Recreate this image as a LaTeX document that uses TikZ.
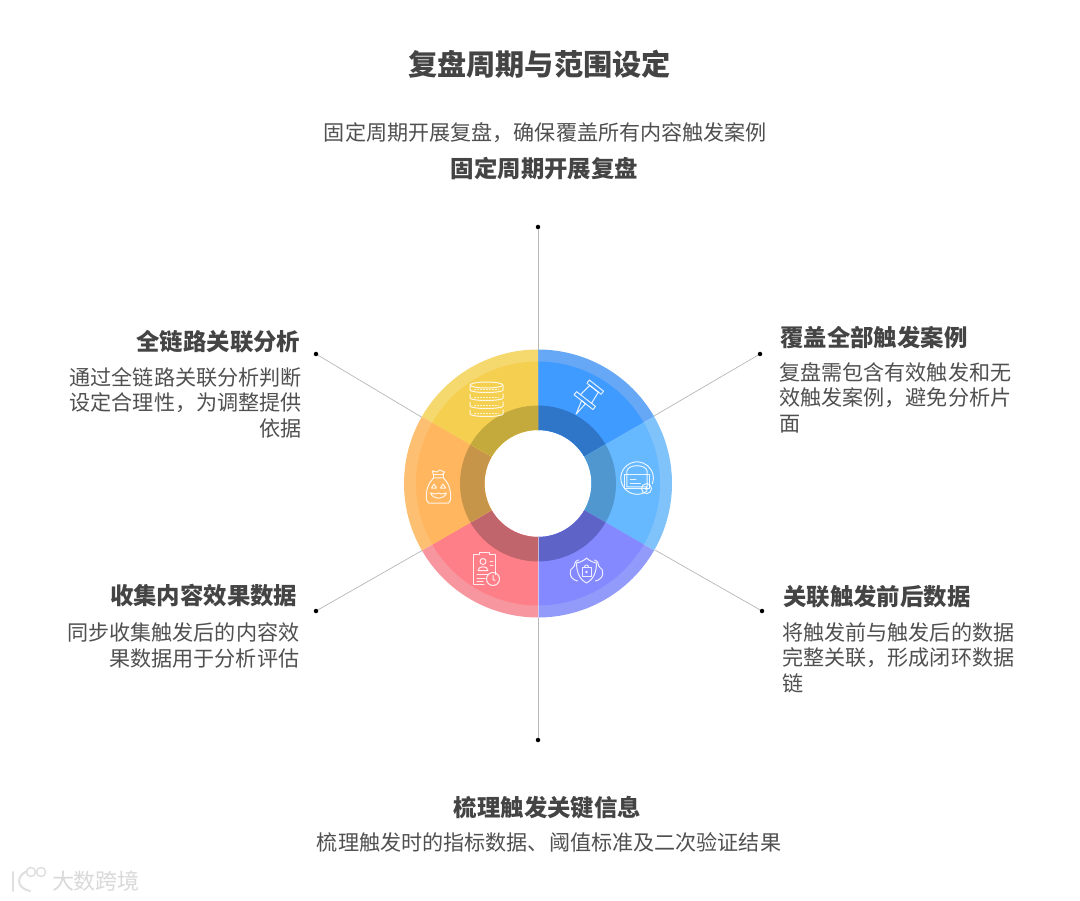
\documentclass[tikz,border=0pt]{standalone}
\usepackage{fontspec}
\setmainfont{Noto Sans CJK SC}
\usetikzlibrary{calc}
\definecolor{txt}{HTML}{505050}
\definecolor{head}{HTML}{444444}
\definecolor{seglineg}{HTML}{B8B8B8}
\definecolor{aO}{HTML}{66A8F5}\definecolor{aM}{HTML}{3F9BFF}\definecolor{aD}{HTML}{2F75C8}
\definecolor{bO}{HTML}{80C2FA}\definecolor{bM}{HTML}{66B8FF}\definecolor{bD}{HTML}{5097CF}
\definecolor{cO}{HTML}{939BFA}\definecolor{cM}{HTML}{8589FF}\definecolor{cD}{HTML}{5E63C8}
\definecolor{dO}{HTML}{F7969F}\definecolor{dM}{HTML}{FF7F88}\definecolor{dD}{HTML}{C0656B}
\definecolor{eO}{HTML}{FDC072}\definecolor{eM}{HTML}{FFB65E}\definecolor{eD}{HTML}{C6954A}
\definecolor{fO}{HTML}{F5D86E}\definecolor{fM}{HTML}{F5CF50}\definecolor{fD}{HTML}{C4A93C}
\newcommand{\ringseg}[5]{%
  \fill[#3] ($(538,-483.5)+(#1:134)$) arc[start angle=#1,end angle=#2,radius=134] -- ($(538,-483.5)+(#2:53.5)$) arc[start angle=#2,end angle=#1,radius=53.5] -- cycle;
  \fill[#4] ($(538,-483.5)+(#1:122)$) arc[start angle=#1,end angle=#2,radius=122] -- ($(538,-483.5)+(#2:53.5)$) arc[start angle=#2,end angle=#1,radius=53.5] -- cycle;
  \fill[#5] ($(538,-483.5)+(#1:78)$) arc[start angle=#1,end angle=#2,radius=78] -- ($(538,-483.5)+(#2:53.5)$) arc[start angle=#2,end angle=#1,radius=53.5] -- cycle;
}
\tikzset{
  titletext/.style={font=\bfseries\fontsize{29.2}{34}\selectfont,text=head,inner sep=0pt},
  headtext/.style={font=\bfseries\fontsize{23.4}{28}\selectfont,text=head,inner sep=0pt},
  bodytext/.style={font=\fontsize{21.1}{25.7}\selectfont,text=txt,inner sep=0pt},
  leader/.style={draw=seglineg,line width=0.7pt},
  blackdot/.style={circle,fill=black,inner sep=0pt,minimum size=4.5pt},
  icon/.style={draw=white,line width=1pt,line join=round,line cap=round,opacity=0.85},
}
\begin{document}
\begin{tikzpicture}[x=1pt,y=1pt]
\useasboundingbox[fill=white] (0,0) rectangle (1080,-901);
% title block
\node[titletext] (title) at (539.5,-64) {复盘周期与范围设定};
\node[bodytext] (sub) at (545.5,-133) {固定周期开展复盘，确保覆盖所有内容触发案例};
\node[headtext] (h1) at (544.5,-168.5) {固定周期开展复盘};
% dots and connectors
\node[blackdot] (dT) at (538,-227) {};
\node[blackdot] (dB) at (538,-740) {};
\node[blackdot] (dTL) at (316,-354) {};
\node[blackdot] (dTR) at (760,-354) {};
\node[blackdot] (dBL) at (316,-611) {};
\node[blackdot] (dBR) at (762,-611) {};
\coordinate (rT) at (538,-350);
\coordinate (rB) at (538,-617);
\coordinate (rTL) at (423,-418);
\coordinate (rTR) at (654,-416);
\coordinate (rBL) at (423,-550);
\coordinate (rBR) at (655,-550);
\draw[leader] (dT) -- (rT);
\draw[leader] (dB) -- (rB);
\draw[leader] (dTL) -- (rTL);
\draw[leader] (dTR) -- (rTR);
\draw[leader] (dBL) -- (rBL);
\draw[leader] (dBR) -- (rBR);
% ring
\ringseg{90}{30}{aO}{aM}{aD}
\ringseg{30}{-30}{bO}{bM}{bD}
\ringseg{-30}{-90}{cO}{cM}{cD}
\ringseg{-90}{-150}{dO}{dM}{dD}
\ringseg{-150}{-210}{eO}{eM}{eD}
\ringseg{150}{90}{fO}{fM}{fD}
\draw[white,opacity=0.5,line width=0.6pt] (538,-537) -- (538,-618);
% icon: database
\begin{scope}[shift={(486.5,-399)}]
  \foreach \yy in {13,5,-3,-11}{
    \draw[icon] (-16.5,\yy) -- (-16.5,\yy-4) arc[start angle=180,end angle=360,x radius=16.5,y radius=2.5] -- (16.5,\yy);
    \draw[icon,dotted] (-12,\yy-3.5) -- (12,\yy-3.5);
  }
  \draw[icon] (0,14) ellipse[x radius=16.5,y radius=3];
\end{scope}
% icon: push pin
\begin{scope}[shift={(586,-399)},rotate=52]
  \draw[icon] (-18,-1.5) -- (-4,-2.5) -- (-4,2.5) -- cycle;
  \draw[icon] (-4,-12) -- (-4,12) -- (0,12) -- (0,-12) -- cycle;
  \draw[icon] (0,-7) -- (13,-5.5) -- (13,5.5) -- (0,7);
  \draw[icon] (13,-9) -- (17,-9) -- (17,9) -- (13,9) -- cycle;
\end{scope}
% icon: circle badge
\begin{scope}[shift={(637,-478)},scale=1.12]
  \draw[icon] (9,-11.5) arc[start angle=-52,end angle=-330,radius=14.5] (12.8,7) arc[start angle=29,end angle=-20,radius=14.5];
  \draw[icon] (-9,6) arc[start angle=180,end angle=0,x radius=9,y radius=5] -- (9,-8) -- (-9,-8) -- cycle;
  \draw[icon] (-11,3) rectangle (11,-9);
  \draw[icon] (-6,-1) -- (-1,-1) (-6,-5) -- (3,-5);
  \draw[icon] (8.5,-9.5) circle[radius=4.5];
  \fill[white,opacity=0.9] (8.5,-9.5) circle[radius=1.5];
\end{scope}
% icon: shield in cloud
\begin{scope}[shift={(586.5,-570)}]
  \draw[icon] (-8,10) .. controls (-13,9) and (-11,4) .. (-13,3) .. controls (-18,1) and (-18,-9) .. (-9,-11);
  \draw[icon] (8,10) .. controls (13,9) and (11,4) .. (13,3) .. controls (18,1) and (18,-9) .. (9,-11);
  \draw[icon] (-10,7) .. controls (-5,8) and (-2,10) .. (0,12) .. controls (2,10) and (5,8) .. (10,7) .. controls (10,0) and (8,-9) .. (0,-13) .. controls (-8,-9) and (-10,0) .. (-10,7) -- cycle;
  \draw[icon] (-4.5,3) rectangle (4.5,-6);
  \draw[icon] (-2,3) arc[start angle=180,end angle=0,radius=2];
  \fill[white,opacity=0.85] (0,-2) circle[radius=1.3];
\end{scope}
% icon: clipboard
\begin{scope}[shift={(484,-568.5)}]
  \draw[icon] (0,-16) -- (-11,-16) -- (-11,14) -- (-5,14) -- (-5,16) -- (5,16) -- (5,14) -- (11,14) -- (11,-6);
  \draw[icon] (-1,7) circle[radius=3];
  \draw[icon] (-6,-2) .. controls (-6,3) and (4,3) .. (4,-2) -- cycle;
  \draw[icon] (6,7) -- (9,7) (6,3) -- (9,3) (-7,-6) -- (4,-6) (-7,-10) -- (1,-10) (-7,-13) -- (-1,-13);
  \draw[icon] (9,-10.5) circle[radius=6.5];
  \draw[icon] (9,-7) -- (9,-11) -- (11,-12);
\end{scope}
% icon: money bag
\begin{scope}[shift={(438.5,-487)}]
  \draw[icon] (-5,9) .. controls (-10,4) and (-13,-3) .. (-12,-13) -- (-10,-16) -- (10,-16) -- (12,-13) .. controls (13,-3) and (10,4) .. (5,9) -- cycle;
  \draw[icon] (-5,9) -- (-5,12) -- (5,12) -- (5,9);
  \draw[icon] (-5,12) -- (-6,16) -- (-1,15) -- (1,17) -- (6,15) -- (4,12);
  \draw[icon] (-7,-1) -- (-4.5,3) -- (-2,-1) -- cycle (2,-1) -- (4.5,3) -- (7,-1) -- cycle;
  \draw[icon] (-8,-6) .. controls (-5,-13) and (5,-13) .. (8,-6) -- (3,-7) -- (0,-6) -- (-3,-7) -- cycle;
\end{scope}
% side labels
\node[headtext,anchor=east] (h2) at (300.5,-342) {全链路关联分析};
\node[bodytext,anchor=north east,align=right] (b2) at (302,-367) {通过全链路关联分析判断\\设定合理性，为调整提供\\依据};
\node[headtext,anchor=west] (h3) at (780,-338) {覆盖全部触发案例};
\node[bodytext,anchor=north west,align=left] (b3) at (779,-362) {复盘需包含有效触发和无\\效触发案例，避免分析片\\面};
\node[headtext,anchor=east] (h4) at (297.5,-596) {收集内容效果数据};
\node[bodytext,anchor=north east,align=right] (b4) at (299.5,-622.5) {同步收集触发后的内容效\\果数据用于分析评估};
\node[headtext,anchor=west] (h5) at (783,-597) {关联触发前后数据};
\node[bodytext,anchor=north west,align=left] (b5) at (782,-622) {将触发前与触发后的数据\\完整关联，形成闭环数据\\链};
\node[headtext] (h6) at (547.5,-807.5) {梳理触发关键信息};
\node[bodytext] (b6) at (549,-842) {梳理触发时的指标数据、阈值标准及二次验证结果};
% watermark
\draw[gray!25,line width=2pt,line cap=round] (13,-872) -- (13,-891);
\draw[gray!25,line width=2pt,line cap=round] (27,-871) .. controls (16,-876) and (16,-888) .. (30,-891);
\draw[gray!25,line width=1.5pt] (31,-872) circle[radius=4.5] (41,-872) circle[radius=4.5];
\node[font=\fontsize{22}{24}\selectfont,text=gray!30,inner sep=0pt] (wm) at (96,-881) {大数跨境};
\end{tikzpicture}
\end{document}
